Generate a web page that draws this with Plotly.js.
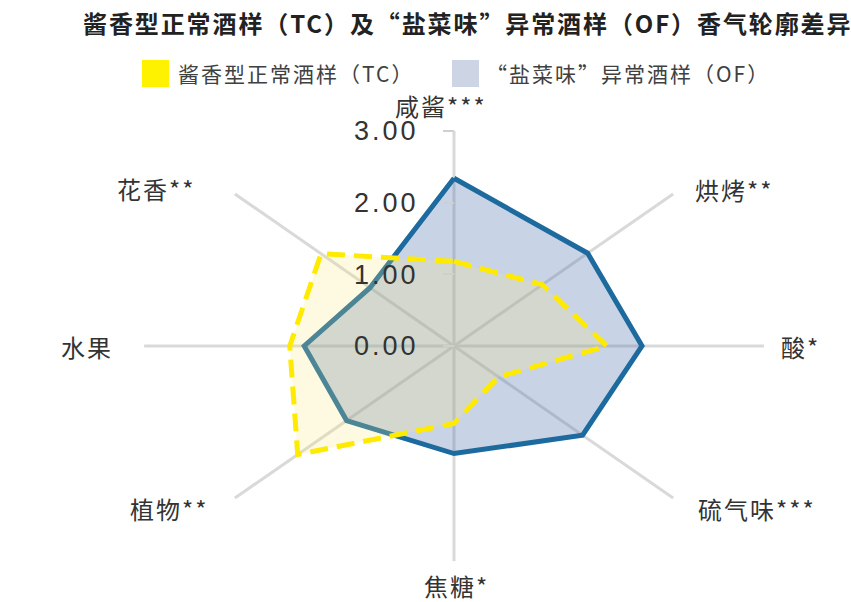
<!DOCTYPE html>
<html>
<head>
<meta charset="utf-8">
<script src="https://cdn.plot.ly/plotly-3.0.1.min.js"></script>
<style>
html,body{margin:0;padding:0;background:#ffffff;}
#chart{width:851px;height:602px;}
.gtitle{letter-spacing:1.9px;}
.annotation-text{letter-spacing:2px;}
.ytick text{letter-spacing:3px;}
</style>
</head>
<body>
<div id="chart"></div>
<script>
// ---------- data ----------
const categories = ['咸酱***', '烘烤**', '酸*', '硫气味***', '焦糖*', '植物**', '水果', '花香**'];
const tcValues = [1.18, 1.21, 1.48, 0.61, 1.08, 2.14, 1.59, 1.82];   // 酱香型正常酒样（TC）
const ofValues = [2.34, 1.83, 1.82, 1.76, 1.50, 1.47, 1.45, 1.15];   // “盐菜味”异常酒样（OF）
const radialTicks = [0, 1, 2, 3];
const radialTickLabels = ['0.00', '1.00', '2.00', '3.00'];
const seriesNames = ['酱香型正常酒样（TC）', '“盐菜味”异常酒样（OF）'];
const titleText = '酱香型正常酒样（TC）及“盐菜味”异常酒样（OF）香气轮廓差异';

// ---------- layout constants ----------
const W = 851, H = 602;
const CX = 454, CY = 346;       // centre of the radar in pixels
const KX = 103.3, KY = 71.7;    // pixels per unit (the radar is elliptical)
const rMax = 3;
const xRange = [-CX / KX, (W - CX) / KX];
const yRange = [-(H - CY) / KY, CY / KY];
const labelPx = [[441, 106], [734, 189], [800, 346], [757, 508], [456, 585], [169, 508], [87, 347], [156, 188]];
const CJK = '"Noto Sans CJK SC", "Noto Sans", sans-serif';
const NUM = '"Liberation Sans", Arial, sans-serif';
const TC_LINE = '#ffea00', TC_FILL = 'rgba(245,230,120,0.22)', TC_SWATCH = '#fff200';
const OF_LINE = '#1d6a9e', OF_FILL = 'rgba(90,120,180,0.33)', OF_SWATCH = '#cdd5e5';

const n = categories.length;
function ang(i) { return i * 2 * Math.PI / n; }
function polygon(vals) {
  const x = [], y = [];
  vals.forEach((v, i) => { x.push(v * Math.sin(ang(i))); y.push(v * Math.cos(ang(i))); });
  x.push(x[0]); y.push(y[0]);
  return { x, y };
}

// spokes
const sx = [], sy = [];
categories.forEach((c, i) => {
  sx.push(0, rMax * Math.sin(ang(i)), null);
  sy.push(0, rMax * Math.cos(ang(i)), null);
});

const of = polygon(ofValues), tc = polygon(tcValues);

const traces = [
  { type: 'scatter', mode: 'lines', x: sx, y: sy, line: { color: '#d9d9d9', width: 3 },
    hoverinfo: 'skip', showlegend: false },
  { type: 'scatter', mode: 'lines', name: seriesNames[1], x: of.x, y: of.y,
    fill: 'toself', fillcolor: OF_FILL, line: { color: OF_LINE, width: 5 },
    text: categories.concat([categories[0]]), customdata: ofValues.concat([ofValues[0]]),
    hovertemplate: '%{text}: %{customdata:.2f}<extra></extra>', showlegend: false },
  { type: 'scatter', mode: 'lines', name: seriesNames[0], x: tc.x, y: tc.y,
    fill: 'toself', fillcolor: TC_FILL, line: { color: TC_LINE, width: 5, dash: '18px,9px' },
    text: categories.concat([categories[0]]), customdata: tcValues.concat([tcValues[0]]),
    hovertemplate: '%{text}: %{customdata:.2f}<extra></extra>', showlegend: false }
];

const annotations = categories.map((c, i) => ({
  text: c, xref: 'paper', yref: 'paper', x: labelPx[i][0] / W, y: 1 - labelPx[i][1] / H,
  xanchor: 'center', yanchor: 'middle', showarrow: false,
  font: { family: CJK, size: 24, color: '#333333' }
}));
// legend texts
annotations.push({ text: seriesNames[0], xref: 'paper', yref: 'paper', x: 176 / W, y: 1 - 73 / H,
  xanchor: 'left', yanchor: 'middle', showarrow: false, font: { family: CJK, size: 21, color: '#404040' } });
annotations.push({ text: seriesNames[1], xref: 'paper', yref: 'paper', x: 484 / W, y: 1 - 73 / H,
  xanchor: 'left', yanchor: 'middle', showarrow: false, font: { family: CJK, size: 21, color: '#404040' } });

const shapes = [
  { type: 'rect', xref: 'paper', yref: 'paper', x0: 142 / W, x1: 169 / W, y0: 1 - 87 / H, y1: 1 - 60 / H,
    fillcolor: TC_SWATCH, line: { width: 0 } },
  { type: 'rect', xref: 'paper', yref: 'paper', x0: 452 / W, x1: 479 / W, y0: 1 - 87 / H, y1: 1 - 60 / H,
    fillcolor: OF_SWATCH, line: { width: 0 } }
];

const layout = {
  width: W, height: H,
  margin: { l: 0, r: 0, t: 0, b: 0, pad: 0 },
  paper_bgcolor: '#ffffff', plot_bgcolor: 'rgba(0,0,0,0)',
  showlegend: false,
  title: { text: titleText, font: { family: CJK, size: 24, color: '#222222', weight: 700 },
    x: 83 / W, xanchor: 'left', xref: 'paper', y: 1 - 25 / H, yref: 'container', yanchor: 'middle' },
  xaxis: { range: xRange, visible: false, fixedrange: true },
  yaxis: { range: yRange, anchor: 'free', position: CX / W, side: 'left', automargin: false,
    tickvals: radialTicks, ticktext: radialTickLabels, ticks: 'outside', ticklen: 11, tickwidth: 2,
    tickcolor: '#cfcfcf', ticklabelstandoff: 19, showgrid: false, zeroline: false, showline: false,
    tickfont: { family: NUM, size: 27, color: '#333333' }, fixedrange: true },
  annotations, shapes
};

Plotly.newPlot('chart', traces, layout, { displayModeBar: false });
</script>
</body>
</html>
